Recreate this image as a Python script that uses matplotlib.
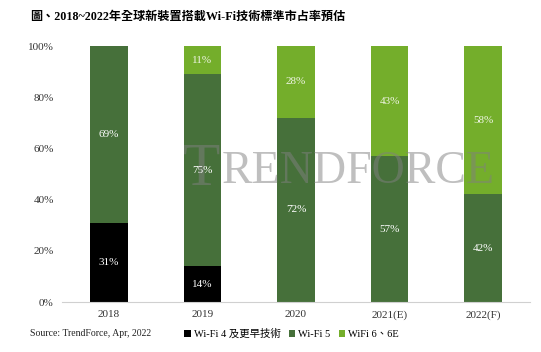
import numpy as np
import matplotlib
matplotlib.use('Agg')
from matplotlib import pyplot as plt

# 數據
years = ['2018', '2019', '2020', '2021(E)', '2022(F)']
wifi4 = [31, 14, 0, 0, 0]
wifi5 = [69, 75, 72, 57, 42]
wifi6 = [0, 11, 28, 43, 58]
series_names = ['Wi-Fi 4 及更早技術', 'Wi-Fi 5', 'WiFi 6、6E']
colors = ['#000000', '#46703a', '#74ae2b']

serif = ['Liberation Serif', 'Noto Sans CJK TC']
plt.rcParams['font.family'] = serif

fig = plt.figure(figsize=(5.41, 3.52), dpi=100)
ax = fig.add_axes([62 / 541, 1 - 302 / 352, 468 / 541, 256 / 352])

x = np.arange(len(years))
bottom = np.zeros(len(years))
for vals, name, c in zip([wifi4, wifi5, wifi6], series_names, colors):
    vals = np.array(vals, dtype=float)
    ax.bar(x, vals, 0.4, bottom=bottom, color=c, label=name, zorder=2)
    for xi, v, b in zip(x, vals, bottom):
        if v > 0:
            tc = '#f0f5e6' if c == colors[2] else 'white'
            ax.text(xi, b + v / 2, f'{int(v)}%', ha='center', va='center',
                    fontsize=8, color=tc, zorder=4)
    bottom += vals

ax.set_xlim(-0.5, len(years) - 0.5)
ax.set_ylim(0, 100)
ax.set_yticks(range(0, 101, 20))
ax.set_yticklabels([f'{v}%' for v in range(0, 101, 20)], fontsize=8, color='#333333')
ax.set_xticks(x)
ax.set_xticklabels(years, fontsize=8, color='#333333')
ax.tick_params(length=0, pad=6)
for s in ['top', 'right', 'left']:
    ax.spines[s].set_visible(False)
ax.spines['bottom'].set_color('#d0d0d0')

# 浮水印 (在柱子之上, 標籤之下)
ax.text(183 / 541, 1 - 170 / 352, 'T', fontsize=44, color='#808080', alpha=0.5,
        ha='left', va='center', zorder=3, transform=fig.transFigure, clip_on=False)
ax.text(222 / 541, 1 - 172 / 352, 'RENDFORCE', fontsize=33, color='#808080',
        alpha=0.5, ha='left', va='center', zorder=3, transform=fig.transFigure,
        clip_on=False)

# 標題
fig.text(30 / 541, 1 - 17 / 352, '圖、2018~2022年全球新裝置搭載Wi-Fi技術標準市占率預估',
         fontsize=8.7, fontweight='bold', ha='left', va='center')
fig.text(30 / 541, 1 - 334 / 352, 'Source: TrendForce, Apr, 2022',
         fontsize=7, ha='left', va='center', color='#222222')

leg = fig.legend(loc='center left', bbox_to_anchor=(175 / 541, 1 - 334 / 352),
                 ncol=3, frameon=False, fontsize=7.5, handlelength=0.6,
                 handleheight=0.6, handletextpad=0.3, columnspacing=0.8)

fig.savefig('out.png', dpi=100)
